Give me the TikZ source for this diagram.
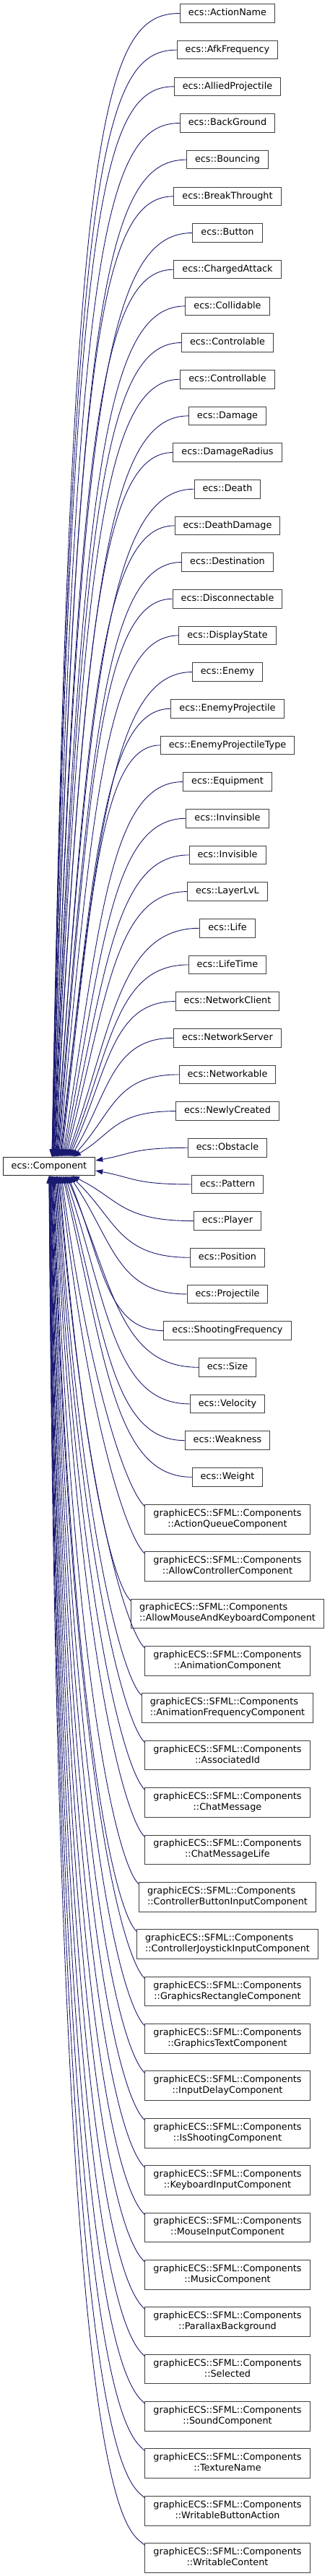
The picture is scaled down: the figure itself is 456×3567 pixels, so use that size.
\documentclass[tikz,border=0pt]{standalone}
\usepackage{fontspec}
\setmainfont{DejaVu Sans}
\usetikzlibrary{arrows.meta,calc}

\definecolor{inhblue}{RGB}{25,25,112}

\tikzset{
    clsbox/.style={draw=black!75, line width=1pt, fill=white, inner xsep=11.5pt,
        font=\fontsize{12.8}{15}\selectfont},
    cls/.style={clsbox, inner ysep=0pt, text height=9.6pt, text depth=3pt, minimum height=25.6pt},
    gcls/.style={clsbox, inner ysep=0pt, minimum height=40.7pt},
    inh/.style={draw=inhblue, line width=0.9pt, -{Triangle[length=10pt,width=7pt]}},
}

% two line label of the graphicECS components
\newcommand\gcname[1]{\begin{tabular}{@{}l@{}}graphicECS::SFML::Components\\\multicolumn{1}{@{}c@{}}{::#1}\end{tabular}}

% inheritance edge: child west -> end point on ecs::Component
\newcommand\inhedge[2]{%
    \draw[inh] let \p1=(#1.west), \p2=(#2), \n1={abs(\y1-\y2)/1600} in
        (\p1) .. controls ({\x1-0.6*(\x1-\x2)},\y1)
                 and ({\x2+(0.4-0.26*\n1)*(\x1-\x2)},{\y2+(0.5+0.415*\n1)*(\y1-\y2)}) .. (\p2);}
% same for the two line boxes, entering near the upper left corner
\newcommand\ginhedge[2]{%
    \draw[inh] let \p1=($(#1.north west)+(0,3)$), \p2=(#2), \n1={abs(\y1-\y2)/1600} in
        (\p1) .. controls ({\x1-26pt},{\y1+24pt})
                 and ({\x2+(0.4-0.26*\n1)*(\x1-\x2)},{\y2+(0.5+0.415*\n1)*(\y1-\y2)}) .. (\p2);}

\begin{document}
\begin{tikzpicture}[x=1pt, y=-1pt]
    \useasboundingbox (0,0) rectangle (456,3567);

    % 1. Base class
    \node[cls, draw=black!85] (comp) at (68,1615) {ecs::Component};

    % 2. ecs components
    \foreach \cname [count=\i] in {ActionName, AfkFrequency, AlliedProjectile, BackGround,
        Bouncing, BreakThrought, Button, ChargedAttack, Collidable, Controlable, Controllable,
        Damage, DamageRadius, Death, DeathDamage, Destination, Disconnectable, DisplayState,
        Enemy, EnemyProjectile, EnemyProjectileType, Equipment, Invinsible, Invisible, LayerLvL,
        Life, LifeTime, NetworkClient, NetworkServer, Networkable, NewlyCreated, Obstacle,
        Pattern, Player, Position, Projectile, ShootingFrequency, Size, Velocity, Weakness, Weight}
        \node[cls] (\cname) at (315,{18.5+(\i-1)*50.67}) {ecs::\cname};

    % 3. graphicECS components
    \foreach \cname [count=\k] in {ActionQueueComponent, AllowControllerComponent,
        AllowMouseAndKeyboardComponent, AnimationComponent, AnimationFrequencyComponent,
        AssociatedId, ChatMessage, ChatMessageLife, ControllerButtonInputComponent,
        ControllerJoystickInputComponent, GraphicsRectangleComponent, GraphicsTextComponent,
        InputDelayComponent, IsShootingComponent, KeyboardInputComponent, MouseInputComponent,
        MusicComponent, ParallaxBackground, Selected, SoundComponent, TextureName,
        WritableButtonAction, WritableContent}
        \node[gcls] (g\cname) at (315,{2103.7+(\k-1)*65.38}) {\gcname{\cname}};

    % 4. Edges arriving on top of the base class
    \foreach \cname [count=\i] in {ActionName, AfkFrequency, AlliedProjectile, BackGround,
        Bouncing, BreakThrought, Button, ChargedAttack, Collidable, Controlable, Controllable,
        Damage, DamageRadius, Death, DeathDamage, Destination, Disconnectable, DisplayState,
        Enemy, EnemyProjectile, EnemyProjectileType, Equipment, Invinsible, Invisible, LayerLvL,
        Life, LifeTime, NetworkClient, NetworkServer, Networkable, NewlyCreated}{
        \pgfmathsetmacro\dx{4+30*((\i-1)/30)^2}
        \coordinate (top\i) at ($(comp.north)+(\dx,0)$);
        \inhedge{\cname}{top\i}
    }

    % 5. Edges arriving on the right side
    \coordinate (rt1) at ($(comp.east)+(0,-8)$);
    \coordinate (rt2) at ($(comp.east)+(0,6)$);
    \inhedge{Obstacle}{rt1}
    \inhedge{Pattern}{rt2}

    % 6. Edges arriving below the base class
    \foreach \cname [count=\m] in {Player, Position, Projectile, ShootingFrequency, Size,
        Velocity, Weakness, Weight}{
        \pgfmathsetmacro\dx{32*((31-\m)/30)^2}
        \coordinate (bot\m) at ($(comp.south)+(\dx,0)$);
        \inhedge{\cname}{bot\m}
    }
    \foreach \cname [count=\k] in {ActionQueueComponent, AllowControllerComponent,
        AllowMouseAndKeyboardComponent, AnimationComponent, AnimationFrequencyComponent,
        AssociatedId, ChatMessage, ChatMessageLife, ControllerButtonInputComponent,
        ControllerJoystickInputComponent, GraphicsRectangleComponent, GraphicsTextComponent,
        InputDelayComponent, IsShootingComponent, KeyboardInputComponent, MouseInputComponent,
        MusicComponent, ParallaxBackground, Selected, SoundComponent, TextureName,
        WritableButtonAction, WritableContent}{
        \pgfmathsetmacro\dx{32*((23-\k)/30)^2}
        \coordinate (gbot\k) at ($(comp.south)+(\dx,0)$);
        \ginhedge{g\cname}{gbot\k}
    }
\end{tikzpicture}
\end{document}
